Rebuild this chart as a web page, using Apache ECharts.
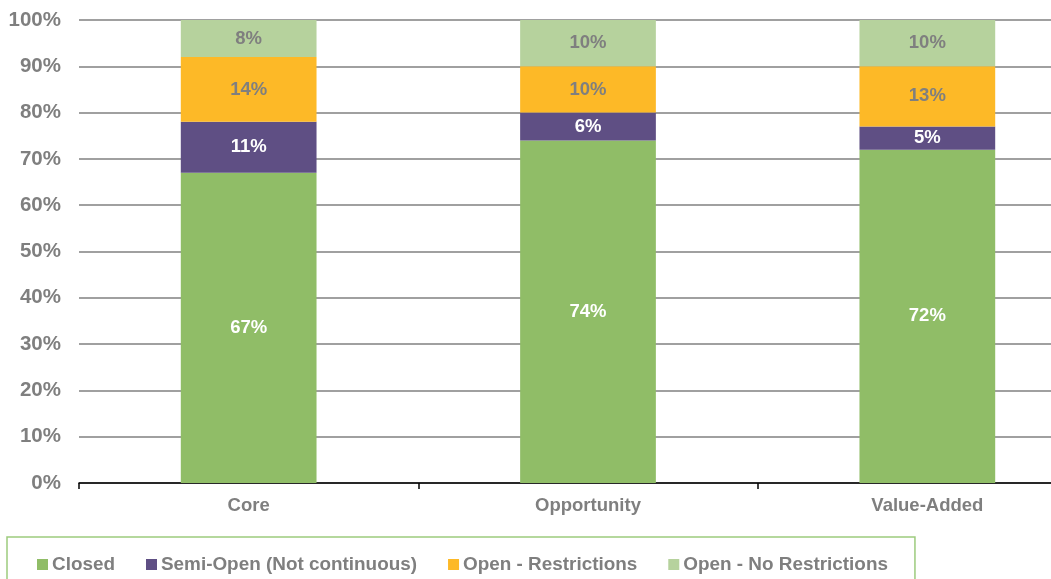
<!DOCTYPE html>
<html>
<head>
<meta charset="utf-8">
<script src="https://cdn.jsdelivr.net/npm/echarts@6/dist/echarts.min.js"></script>
<style>
  html, body { margin: 0; padding: 0; background: #fff; overflow: hidden; }
  #chart { width: 1051px; height: 579px; }
</style>
</head>
<body>
<div id="chart"></div>
<script>
// Fund strategies on the category axis
const categories = ['Core', 'Opportunity', 'Value-Added'];

// Share of funds (%) by redemption structure
const closed = [67, 74, 72];
const semiOpen = [11, 6, 5];
const openRestrictions = [14, 10, 13];
const openNoRestrictions = [8, 10, 10];

const seriesNames = ['Closed', 'Semi-Open (Not continuous)', 'Open - Restrictions', 'Open - No Restrictions'];
const seriesColors = ['#90BD67', '#5F4F84', '#FDB927', '#B6D29D'];
const labelColors = ['#ffffff', '#ffffff', '#7f7f7f', '#7f7f7f'];
const seriesData = [closed, semiOpen, openRestrictions, openNoRestrictions];

const font = '"Liberation Sans", Arial, sans-serif';

const chart = echarts.init(document.getElementById('chart'));

chart.setOption({
  animation: false,
  backgroundColor: '#ffffff',
  // plot area runs past the right edge of the canvas
  grid: { left: 79, top: 20, width: 1018, height: 463, containLabel: false, outerBoundsMode: 'none' },
  xAxis: {
    type: 'category',
    data: categories,
    axisLine: { lineStyle: { color: '#000000', width: 1.5 } },
    axisTick: { show: true, length: 6, lineStyle: { color: '#000000', width: 1.5 } },
    axisLabel: { color: '#7f7f7f', fontFamily: font, fontWeight: 'bold', fontSize: 18.5, margin: 13 }
  },
  yAxis: {
    type: 'value',
    min: 0,
    max: 100,
    interval: 10,
    axisLine: { show: false },
    axisTick: { show: false },
    splitLine: { lineStyle: { color: '#808080', width: 1.5 } },
    axisLabel: {
      color: '#7f7f7f', fontFamily: font, fontWeight: 'bold', fontSize: 20.5, margin: 18,
      formatter: v => v + '%'
    }
  },
  legend: {
    left: 7,
    top: 537,
    itemWidth: 11,
    itemHeight: 11,
    itemGap: 31,
    icon: 'rect',
    padding: [18, 27, 20, 30],
    borderColor: '#9DCB7D',
    borderWidth: 1.5,
    textStyle: { color: '#7f7f7f', fontFamily: font, fontWeight: 'bold', fontSize: 18.9, padding: [0, 0, 0, -1] },
    data: seriesNames
  },
  series: seriesData.map((d, i) => ({
    name: seriesNames[i],
    type: 'bar',
    stack: 'total',
    barWidth: '40%',
    data: d,
    itemStyle: { color: seriesColors[i] },
    label: {
      show: true,
      position: 'inside',
      color: labelColors[i],
      fontFamily: font,
      fontWeight: 'bold',
      fontSize: 18.5,
      formatter: p => p.value + '%'
    }
  }))
});
</script>
</body>
</html>
